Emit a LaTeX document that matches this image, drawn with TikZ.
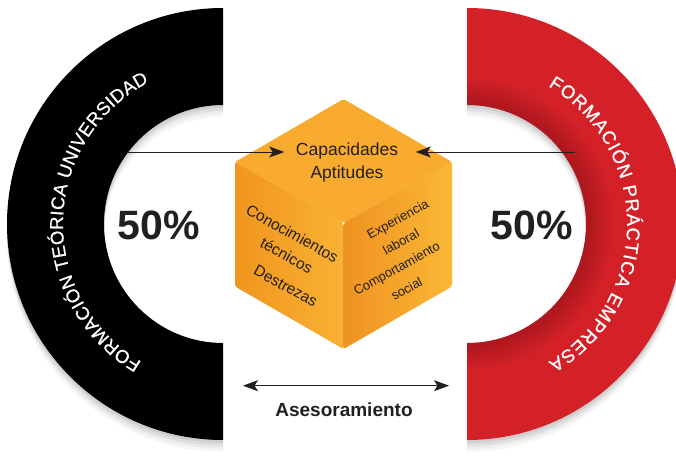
\documentclass[tikz,border=0pt]{standalone}
\usepackage{fontspec}
\setmainfont{Liberation Sans}
\newfontfamily\arcfont{Liberation Sans}[FakeBold=0.7]
\usetikzlibrary{arrows.meta,decorations.text}
\definecolor{redA}{HTML}{D42127}
\definecolor{inkA}{HTML}{231F20}
\definecolor{topF}{HTML}{F8AB2E}
\definecolor{leftFa}{HTML}{F1951E}
\definecolor{leftFb}{HTML}{F8B234}
\definecolor{rightFa}{HTML}{EF9221}
\definecolor{rightFb}{HTML}{FAB835}
\begin{document}
\begin{tikzpicture}[x=1pt,y=1pt,
  arr/.style={draw=inkA, line width=0.8pt, -{Stealth[length=15pt,width=11pt,inset=3.5pt]}},
  darr/.style={draw=inkA, line width=0.8pt, {Stealth[length=15pt,width=11pt,inset=3.5pt]}-{Stealth[length=15pt,width=11pt,inset=3.5pt]}},
  pct/.style={text=inkA, font=\fontsize{41}{41}\selectfont\bfseries, inner sep=0pt},
  toptxt/.style={text=inkA, font=\fontsize{17.5}{18}\selectfont, inner sep=0pt, anchor=base},
  lface/.style={text=inkA, font=\fontsize{15.5}{16}\selectfont, inner sep=0pt, rotate=-29},
  rface/.style={text=inkA, font=\fontsize{13}{14}\selectfont, inner sep=0pt, rotate=29},
  bottxt/.style={text=inkA, font=\fontsize{19}{20}\selectfont\bfseries, inner sep=0pt, anchor=base},
  arctext/.style={decorate, decoration={text along path, text color=white, text align={fit to path}}}
]
\useasboundingbox (0,0) rectangle (676,464);
\clip (0,0) rectangle (676,464);
\fill[white] (0,0) rectangle (676,464);

% soft shadows under the half rings
\foreach \s/\o in {3/0.07,6/0.06,9/0.04,12/0.03} {
  \fill[black, opacity=\o] (223,456-\s) arc[start angle=90,end angle=270,radius=216] -- (223,121-\s) arc[start angle=270,end angle=90,radius=119] -- cycle;
  \fill[black, opacity=\o] (467,456-\s) arc[start angle=90,end angle=-90,radius=216] -- (467,121-\s) arc[start angle=-90,end angle=90,radius=119] -- cycle;
}

% left black half ring
\fill[black] (223,456) arc[start angle=90,end angle=270,radius=216] -- (223,121) arc[start angle=270,end angle=90,radius=119] -- cycle;

% right red half ring
\fill[redA] (467,456) arc[start angle=90,end angle=-90,radius=216] -- (467,121) arc[start angle=-90,end angle=90,radius=119] -- cycle;
\begin{scope}
  \clip (467,456) arc[start angle=90,end angle=-90,radius=216] -- (467,121) arc[start angle=-90,end angle=90,radius=119] -- cycle;
  \foreach \k in {3,6,...,27} {
    \fill[black, opacity=0.02] (467,240) circle[radius=119+\k];
  }
\end{scope}

% curved texts
\path[arctext, decoration={text={|\arcfont\fontsize{18.5}{18.5}\selectfont|FORMACIÓN TEÓRICA UNIVERSIDAD}}]
  (223,240) ++(239.5:160) arc[start angle=239.5,end angle=117.5,radius=160];
\path[arctext, decoration={text={|\arcfont\fontsize{18.5}{18.5}\selectfont|FORMACIÓN PRÁCTICA EMPRESA}}]
  (467,240) ++(59.5:160) arc[start angle=59.5,end angle=-59.5,radius=160];

% percentages
\node[pct] (p1) at (159,239) {50\%};
\node[pct] (p2) at (532,239) {50\%};

% cube
\coordinate (T) at (343.5,365);
\coordinate (LT) at (235,302);
\coordinate (RT) at (452,302);
\coordinate (C) at (343.5,241);
\coordinate (LB) at (235,177.5);
\coordinate (RB) at (452,177.5);
\coordinate (B) at (343.5,115);
\fill[topF, rounded corners=2pt] (T) -- (RT) -- (C) -- (LT) -- cycle;
\shade[left color=leftFa, right color=leftFb, rounded corners=2pt] (LT) -- (C) -- (B) -- (LB) -- cycle;
\shade[left color=rightFa, right color=rightFb, rounded corners=2pt] (C) -- (RT) -- (RB) -- (B) -- cycle;

% cube texts
\node[toptxt] (cap) at (347,308) {Capacidades};
\node[toptxt] (apt) at (347,285.7) {Aptitudes};
\node[lface] (k1) at (292.3,230.5) {Conocimientos};
\node[lface] (k2) at (286.7,208.5) {técnicos};
\node[lface] (k3) at (285.7,178) {Destrezas};
\node[rface] (e1) at (398.3,243.8) {Experiencia};
\node[rface] (e2) at (401,222.5) {laboral};
\node[rface] (e3) at (397.3,194.5) {Comportamiento};
\node[rface] (e4) at (406.7,175.2) {social};

% arrows to the top face
\coordinate (la) at (127,312);
\coordinate (ra) at (575,312);
\draw[arr, shorten >=11.5pt] (la) -- (la -| cap.west);
\draw[arr, shorten >=17.5pt] (ra) -- (ra -| cap.east);

% bottom double arrow
\coordinate (a1) at (243,78.3);
\coordinate (a2) at (449,78.3);
\draw[darr] (a1) -- (a2);
\node[bottxt] (asr) at (344,48) {Asesoramiento};
\end{tikzpicture}
\end{document}
